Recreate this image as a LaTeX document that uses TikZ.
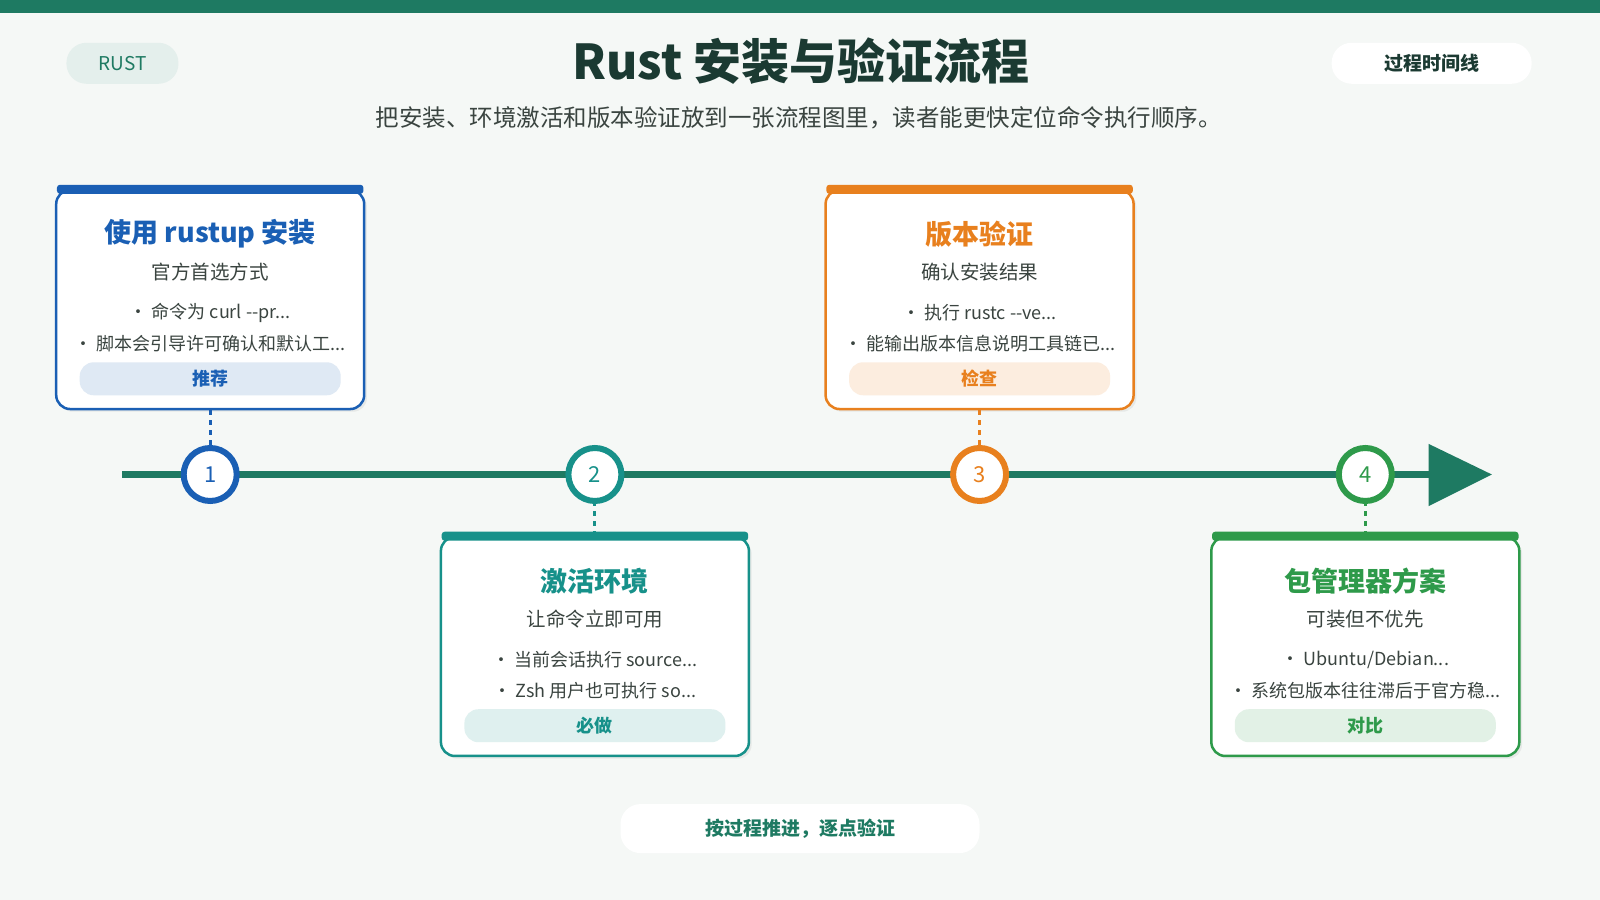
\documentclass[tikz,border=0pt]{standalone}
\usepackage{fontspec}
\setmainfont{Noto Sans CJK SC}
\usetikzlibrary{shadows}
\definecolor{bg}{HTML}{F5F8F6}
\definecolor{main}{HTML}{1E7A62}
\definecolor{dark}{HTML}{1B3A32}
\definecolor{txt}{HTML}{3A4440}
\definecolor{cblue}{HTML}{1A5FB4}
\definecolor{cteal}{HTML}{17918A}
\definecolor{corange}{HTML}{E8801E}
\definecolor{cgreen}{HTML}{2E9A4A}
\tikzset{
  card/.style={draw=#1,line width=2.5pt,fill=white,rounded corners=14pt,minimum width=308pt,minimum height=219pt,drop shadow={opacity=0.12}},
  step/.style={circle,draw=#1,line width=6pt,fill=white,minimum size=53pt,inner sep=0pt,font=\fontsize{22}{22}\selectfont,text=#1},
  tag/.style={fill=#1,rounded corners=14pt,minimum width=261pt,minimum height=33pt,inner sep=0pt,font=\fontsize{18}{18}\selectfont\bfseries},
  pill/.style={fill=#1,rounded corners=20pt,inner sep=0pt,minimum height=41pt},
  link/.style={draw=#1,line width=3pt,dash pattern=on 5pt off 5pt}
}
\newcommand{\stepcard}[8]{% x, top y, colour, title, subtitle, bullet1, bullet2, tag
  \node[card=#3,anchor=north] (#1card) at (#2) {};
  \fill[#3,rounded corners=3pt] ([xshift=2pt,yshift=4pt]#1card.north west) rectangle ([xshift=-2pt,yshift=-5pt]#1card.north east);
  \node[font=\fontsize{27}{27}\selectfont\bfseries,text=#3] at ([yshift=-45pt]#1card.north) {#4};
  \node[font=\fontsize{19.5}{19.5}\selectfont,text=txt] at ([yshift=-83pt]#1card.north) {#5};
  \node[font=\fontsize{18}{18}\selectfont,text=txt] at ([yshift=-124pt]#1card.north) {• #6};
  \node[font=\fontsize{18}{18}\selectfont,text=txt] at ([yshift=-155pt]#1card.north) {• #7};
  \node[tag=#3!14,text=#3] (#1tag) at ([yshift=-190pt]#1card.north) {#8};
}
\begin{document}
\begin{tikzpicture}[x=1.0204pt,y=-1.0204pt]
\fill[bg] (0,0) rectangle (1568,882);
\useasboundingbox (0,0) rectangle (1568,882);
\fill[main] (0,0) rectangle (1568,13);
% header
\node[pill=main!12,minimum width=112pt,text=main,font=\fontsize{19}{19}\selectfont] (badge) at (120,62) {RUST};
\node[font=\fontsize{48}{48}\selectfont\bfseries,text=dark] (title) at (785,60) {Rust 安装与验证流程};
\node[font=\fontsize{23.5}{23.5}\selectfont,text=txt] (subtitle) at (783,115) {把安装、环境激活和版本验证放到一张流程图里，读者能更快定位命令执行顺序。};
\node[pill=white,minimum width=200pt,text=dark,font=\fontsize{19}{19}\selectfont\bfseries] (kind) at (1403,62) {过程时间线};
% timeline
\coordinate (start) at (120,465);
\coordinate (tip) at (1462,465);
\draw[main,line width=7pt] (start) -- (1405,465);
\fill[main] (1400,435) -- (tip) -- (1400,496) -- cycle;
% cards
\stepcard{a}{206,185}{cblue}{使用 rustup 安装}{官方首选方式}{命令为 curl -{}-pr...}{脚本会引导许可确认和默认工...}{推荐}
\stepcard{b}{583,525}{cteal}{激活环境}{让命令立即可用}{当前会话执行 source...}{Zsh 用户也可执行 so...}{必做}
\stepcard{c}{960,185}{corange}{版本验证}{确认安装结果}{执行 rustc -{}-ve...}{能输出版本信息说明工具链已...}{检查}
\stepcard{d}{1338,525}{cgreen}{包管理器方案}{可装但不优先}{Ubuntu/Debian...}{系统包版本往往滞后于官方稳...}{对比}
% steps
\node[step=cblue] (s1) at (206,465) {1};
\node[step=cteal] (s2) at (583,465) {2};
\node[step=corange] (s3) at (960,465) {3};
\node[step=cgreen] (s4) at (1338,465) {4};
\draw[link=cblue] (acard.south) -- (s1.north);
\draw[link=cteal] (bcard.north) -- (s2.south);
\draw[link=corange] (ccard.south) -- (s3.north);
\draw[link=cgreen] (dcard.north) -- (s4.south);
% footer
\node[pill=white,minimum width=359pt,minimum height=49pt,text=main,font=\fontsize{19}{19}\selectfont\bfseries] (footer) at (784,812) {按过程推进，逐点验证};
\end{tikzpicture}
\end{document}
